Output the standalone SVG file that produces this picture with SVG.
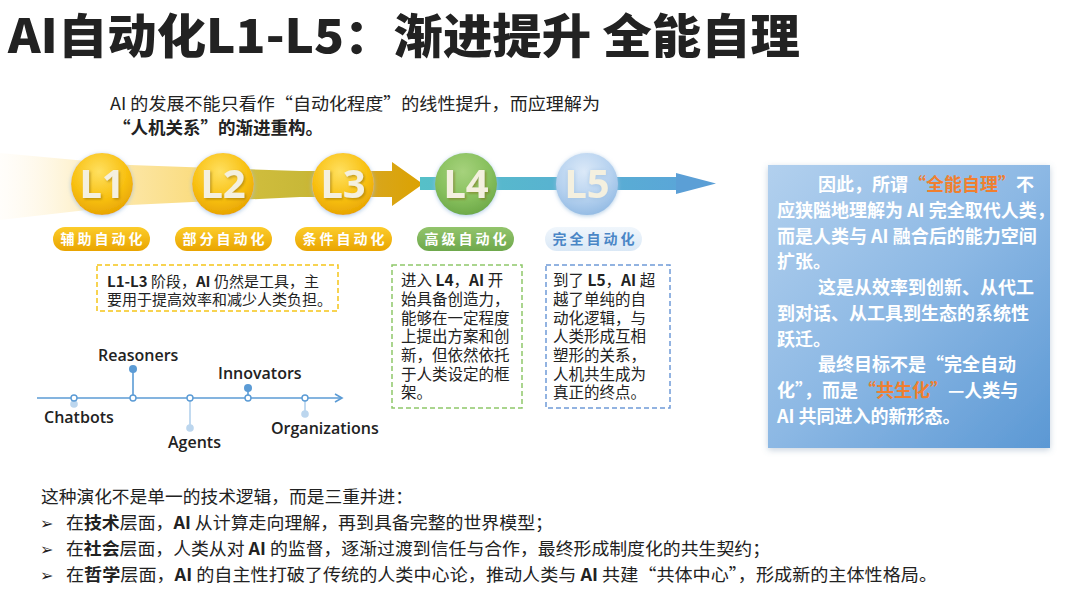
<svg xmlns="http://www.w3.org/2000/svg" width="1080" height="608" viewBox="0 0 1080 608">
<defs>
<style>
.t{font-family:"Noto Sans CJK SC","Noto Sans",sans-serif;fill:#222}
.b{font-weight:700}
.lv{font-family:"Noto Sans","Noto Sans CJK SC",sans-serif;font-weight:700;font-size:40px;fill:#f4f0df}
.pill{font-family:"Noto Sans CJK SC",sans-serif;font-weight:700;font-size:14px;fill:#fff;letter-spacing:3px}
.tl{font-family:"Open Sans","Noto Sans",sans-serif;font-weight:600;font-size:16px;fill:#222}
.wt{font-family:"Noto Sans CJK SC","Noto Sans",sans-serif;font-weight:700;font-size:18px;fill:#fff}
.or{fill:#f07f2f}
.box{fill:none;stroke-width:1.5;stroke-dasharray:5 3}
.bul{font-family:"DejaVu Sans",sans-serif;font-size:16px;fill:#222}
</style>
<linearGradient id="band" x1="0" y1="0" x2="1" y2="0">
<stop offset="0" stop-color="#fffaf0" stop-opacity="0.3"/>
<stop offset="0.3" stop-color="#fde9b0"/>
<stop offset="0.55" stop-color="#fadc80"/>
<stop offset="0.62" stop-color="#d4c040"/>
<stop offset="0.85" stop-color="#c8b838"/>
<stop offset="1" stop-color="#d4a818"/>
</linearGradient>
<linearGradient id="teal" x1="0" y1="0" x2="1" y2="0">
<stop offset="0" stop-color="#56c0c8"/>
<stop offset="1" stop-color="#5aa6d8"/>
</linearGradient>
<linearGradient id="goldArrow" x1="0" y1="0" x2="1" y2="0">
<stop offset="0" stop-color="#d6a82a"/>
<stop offset="1" stop-color="#dca200"/>
</linearGradient>
<radialGradient id="gGold" cx="0.45" cy="0.3" r="0.75">
<stop offset="0" stop-color="#ffe060"/>
<stop offset="0.6" stop-color="#f8c010"/>
<stop offset="1" stop-color="#e4a000"/>
</radialGradient>
<radialGradient id="gGreen" cx="0.45" cy="0.3" r="0.75">
<stop offset="0" stop-color="#a6d27c"/>
<stop offset="0.6" stop-color="#86bf5c"/>
<stop offset="1" stop-color="#6aa646"/>
</radialGradient>
<radialGradient id="gBlue" cx="0.45" cy="0.3" r="0.75">
<stop offset="0" stop-color="#dbe9f8"/>
<stop offset="0.6" stop-color="#b5d1ef"/>
<stop offset="1" stop-color="#8fb8e2"/>
</radialGradient>
<linearGradient id="pGold" x1="0" y1="0" x2="0" y2="1">
<stop offset="0" stop-color="#fccc2a"/>
<stop offset="1" stop-color="#e9a400"/>
</linearGradient>
<linearGradient id="pGreen" x1="0" y1="0" x2="0" y2="1">
<stop offset="0" stop-color="#93c46c"/>
<stop offset="1" stop-color="#6ea84c"/>
</linearGradient>
<linearGradient id="pBlue" x1="0" y1="0" x2="0" y2="1">
<stop offset="0" stop-color="#f0f6fc"/>
<stop offset="1" stop-color="#dae8f6"/>
</linearGradient>
<linearGradient id="panel" x1="0" y1="0" x2="1" y2="1">
<stop offset="0" stop-color="#b2d0ee"/>
<stop offset="0.5" stop-color="#8cb8e4"/>
<stop offset="1" stop-color="#5b98d4"/>
</linearGradient>
<filter id="glow" x="-30%" y="-30%" width="160%" height="160%">
<feDropShadow dx="0" dy="1" stdDeviation="2" flood-color="#9cc0e0" flood-opacity="0.8"/>
</filter>
<filter id="ts" x="-20%" y="-20%" width="140%" height="140%">
<feDropShadow dx="1.5" dy="1.5" stdDeviation="1" flood-color="#7a5a00" flood-opacity="0.45"/>
</filter>
<filter id="sh" x="-10%" y="-10%" width="120%" height="120%">
<feDropShadow dx="0" dy="2" stdDeviation="3" flood-color="#6080a0" flood-opacity="0.35"/>
</filter>
<marker id="tlArrow" markerWidth="10" markerHeight="10" refX="8" refY="5" orient="auto" markerUnits="userSpaceOnUse">
<path d="M1,1 L8,5 L1,9" fill="none" stroke="#5b9bd5" stroke-width="1.6"/>
</marker>
</defs>

<rect width="1080" height="608" fill="#fff"/>

<g id="title">
<text class="t" x="8" y="53" font-size="47" font-weight="900" textLength="792" lengthAdjust="spacingAndGlyphs">AI自动化L1-L5：渐进提升 全能自理</text>
</g>

<g id="subtitle">
<text class="t" x="110" y="110" font-size="17.5" textLength="490" lengthAdjust="spacingAndGlyphs">AI 的发展不能只看作“自动化程度”的线性提升，而应理解为</text>
<text class="t b" x="113" y="134" font-size="17.5">“人机关系”的渐进重构。</text>
</g>

<g id="connectors">
<polygon points="0,153 130,165 300,171 356,171 356,197 300,197 130,205 0,220" fill="url(#band)"/>
<polygon points="350,171 392,171 392,162 423,184 392,206 392,197 350,197" fill="url(#goldArrow)"/>
<rect x="420" y="177" width="260" height="13" fill="url(#teal)"/>
<polygon points="676,173 716,183.5 676,194" fill="#5b9fd6"/>
</g>

<g id="L1">
<circle cx="102" cy="184" r="31" fill="url(#gGold)" filter="url(#glow)"/>
<text class="lv" x="102" y="198" text-anchor="middle" filter="url(#ts)">L1</text>
<rect x="53" y="227" width="97" height="24" rx="12" fill="url(#pGold)"/>
<text class="pill" x="103" y="244" text-anchor="middle">辅助自动化</text>
</g>
<g id="L2">
<circle cx="223" cy="184" r="31" fill="url(#gGold)" filter="url(#glow)"/>
<text class="lv" x="223" y="198" text-anchor="middle" filter="url(#ts)">L2</text>
<rect x="175" y="227" width="97" height="24" rx="12" fill="url(#pGold)"/>
<text class="pill" x="225" y="244" text-anchor="middle">部分自动化</text>
</g>
<g id="L3">
<circle cx="343" cy="184" r="31" fill="url(#gGold)" filter="url(#glow)"/>
<text class="lv" x="343" y="198" text-anchor="middle" filter="url(#ts)">L3</text>
<rect x="295" y="227" width="97" height="24" rx="12" fill="url(#pGold)"/>
<text class="pill" x="345" y="244" text-anchor="middle">条件自动化</text>
</g>
<g id="L4">
<circle cx="466" cy="184" r="31" fill="url(#gGreen)" filter="url(#glow)"/>
<text class="lv" x="466" y="198" text-anchor="middle" fill="#eef3e6" filter="url(#ts)">L4</text>
<rect x="417" y="227" width="97" height="24" rx="12" fill="url(#pGreen)"/>
<text class="pill" x="467" y="244" text-anchor="middle">高级自动化</text>
</g>
<g id="L5">
<circle cx="587" cy="184" r="31" fill="url(#gBlue)" filter="url(#glow)"/>
<text class="lv" x="587" y="198" text-anchor="middle" filter="url(#glow)">L5</text>
<rect x="545" y="227" width="97" height="24" rx="12" fill="url(#pBlue)"/>
<text class="pill" x="595" y="244" text-anchor="middle" style="fill:#4a86c6">完全自动化</text>
</g>

<g id="note-l1-l3">
<rect class="box" x="97" y="265" width="241" height="46" stroke="#f5c518"/>
<text class="t" font-size="15" x="107" y="287"><tspan class="b">L1-L3</tspan> 阶段，<tspan class="b">AI</tspan> 仍然是工具，主</text>
<text class="t" font-size="15" x="107" y="305">要用于提高效率和减少人类负担。</text>
</g>

<g id="note-l4">
<rect class="box" x="392" y="265" width="130" height="143" stroke="#8fc86a"/>
<g class="t" font-size="15.5">
<text x="401" y="286">进入 <tspan class="b">L4</tspan>，<tspan class="b">AI</tspan> 开</text>
<text x="401" y="305">始具备创造力，</text>
<text x="401" y="323.5">能够在一定程度</text>
<text x="401" y="342">上提出方案和创</text>
<text x="401" y="361">新，但依然依托</text>
<text x="401" y="379.5">于人类设定的框</text>
<text x="401" y="398">架。</text>
</g>
</g>

<g id="note-l5">
<rect class="box" x="546" y="265" width="124" height="143" stroke="#6f9bd8"/>
<g class="t" font-size="15.5">
<text x="553" y="286">到了 <tspan class="b">L5</tspan>，<tspan class="b">AI</tspan> 超</text>
<text x="553" y="305">越了单纯的自</text>
<text x="553" y="323.5">动化逻辑，与</text>
<text x="553" y="342">人类形成互相</text>
<text x="553" y="361">塑形的关系，</text>
<text x="553" y="379.5">人机共生成为</text>
<text x="553" y="398">真正的终点。</text>
</g>
</g>

<g id="timeline">
<line x1="37" y1="398" x2="342" y2="398" stroke="#5b9bd5" stroke-width="1.6" marker-end="url(#tlArrow)"/>
<line x1="133" y1="369" x2="133" y2="398" stroke="#5b9bd5" stroke-width="1.6"/>
<line x1="248" y1="388" x2="248" y2="398" stroke="#5b9bd5" stroke-width="1.6"/>
<line x1="74" y1="398" x2="74" y2="403" stroke="#a8cbea" stroke-width="1.4"/>
<line x1="190" y1="398" x2="190" y2="428" stroke="#a8cbea" stroke-width="1.4"/>
<line x1="305" y1="398" x2="305" y2="414" stroke="#a8cbea" stroke-width="1.4"/>
<circle cx="133" cy="369" r="4" fill="#5b9bd5"/>
<circle cx="248" cy="388" r="4" fill="#5b9bd5"/>
<circle cx="74" cy="404" r="3.8" fill="#bcd6ee"/>
<circle cx="190" cy="428" r="3.8" fill="#bcd6ee"/>
<circle cx="305" cy="414" r="3.8" fill="#bcd6ee"/>
<g fill="#fff" stroke="#5b9bd5" stroke-width="1.4">
<circle cx="74" cy="398" r="3"/>
<circle cx="133" cy="398" r="3"/>
<circle cx="190" cy="398" r="3"/>
<circle cx="248" cy="398" r="3"/>
<circle cx="305" cy="398" r="3"/>
</g>
<text class="tl" x="98" y="361">Reasoners</text>
<text class="tl" x="218" y="379">Innovators</text>
<text class="tl" x="44" y="423">Chatbots</text>
<text class="tl" x="168" y="448">Agents</text>
<text class="tl" x="271" y="434">Organizations</text>
</g>

<g id="summary-panel">
<rect x="768" y="165" width="282" height="283" fill="url(#panel)" filter="url(#sh)"/>
<text class="wt" x="818" y="191">因此，所谓<tspan class="or">“全能自理”</tspan>不</text>
<text class="wt" x="777" y="217">应狭隘地理解为 AI 完全取代人类，</text>
<text class="wt" x="777" y="243">而是人类与 AI 融合后的能力空间</text>
<text class="wt" x="777" y="268">扩张。</text>
<text class="wt" x="818" y="294">这是从效率到创新、从代工</text>
<text class="wt" x="777" y="320">到对话、从工具到生态的系统性</text>
<text class="wt" x="777" y="346">跃迁。</text>
<text class="wt" x="818" y="371">最终目标不是“完全自动</text>
<text class="wt" x="777" y="397">化”，而是<tspan class="or">“共生化”</tspan>—人类与</text>
<text class="wt" x="777" y="423">AI 共同进入的新形态。</text>
</g>

<g id="bottom-text">
<text class="t" font-size="17.5" x="41" y="503" textLength="372" lengthAdjust="spacingAndGlyphs">这种演化不是单一的技术逻辑，而是三重并进：</text>
<text class="bul" x="40" y="529">➢</text>
<text class="t" font-size="17.5" x="66" y="529" textLength="487" lengthAdjust="spacingAndGlyphs">在<tspan class="b">技术</tspan>层面，<tspan class="b">AI</tspan> 从计算走向理解，再到具备完整的世界模型；</text>
<text class="bul" x="40" y="555">➢</text>
<text class="t" font-size="17.5" x="66" y="555" textLength="704" lengthAdjust="spacingAndGlyphs">在<tspan class="b">社会</tspan>层面，人类从对 <tspan class="b">AI</tspan> 的监督，逐渐过渡到信任与合作，最终形成制度化的共生契约；</text>
<text class="bul" x="40" y="581">➢</text>
<text class="t" font-size="17.5" x="66" y="581" textLength="871" lengthAdjust="spacingAndGlyphs">在<tspan class="b">哲学</tspan>层面，<tspan class="b">AI</tspan> 的自主性打破了传统的人类中心论，推动人类与 <tspan class="b">AI</tspan> 共建“共体中心”，形成新的主体性格局。</text>
</g>
</svg>
